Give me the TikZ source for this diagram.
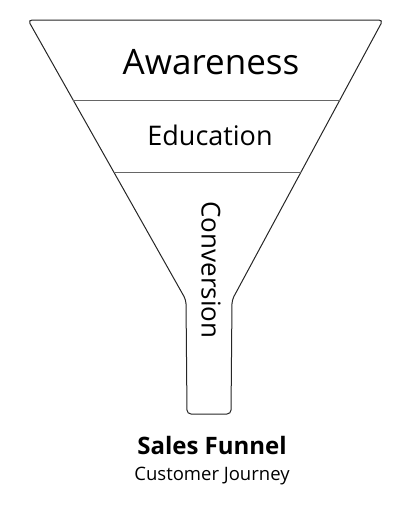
\documentclass[tikz,border=0pt]{standalone}
\usepackage{fontspec}
\setmainfont{Open Sans}
\usetikzlibrary{positioning, calc}

\begin{document}
\begin{tikzpicture}[
        x=1pt, y=-1pt,
        outline/.style={line width=1pt, draw=black!85, rounded corners=4pt},
        divider/.style={line width=1pt, draw=black!60},
        stage/.style={anchor=center, inner sep=0pt},
        big/.style={stage, font=\fontsize{35}{40}\selectfont},
        mid/.style={stage, font=\fontsize{27}{31}\selectfont},
        small/.style={stage, font=\fontsize{26}{30}\selectfont},
        title/.style={stage, font=\fontsize{24}{28}\selectfont\bfseries},
        subtitle/.style={stage, font=\fontsize{18.5}{22}\selectfont}
    ]
        \useasboundingbox (0,0) rectangle (410,509);

        \coordinate (topL) at (28,20);
        \coordinate (topR) at (383,20);
        \coordinate (neckL) at (186,300);
        \coordinate (neckR) at (232,300);
        \coordinate (baseL) at (187,414);
        \coordinate (baseR) at (231,414);

        \draw[outline] (topL) -- (topR) -- (neckR) -- (baseR) -- (baseL) -- (neckL) -- cycle;

        \coordinate (d1L) at ($(topL)!0.2857!(neckL)$);
        \coordinate (d1R) at ($(topR)!0.2857!(neckR)$);
        \coordinate (d2L) at ($(topL)!0.5429!(neckL)$);
        \coordinate (d2R) at ($(topR)!0.5429!(neckR)$);
        \draw[divider] (d1L) -- (d1R);
        \draw[divider] (d2L) -- (d2R);

        \node[big] (aware) at (211,62) {Awareness};
        \node[mid] (edu) at (210,135) {Education};
        \node[small, rotate=-90] (conv) at (211,270) {Conversion};

        \node[title] (sales) at (212,445) {Sales Funnel};
        \node[subtitle, below=12pt of sales] (journey) {Customer Journey};
    \end{tikzpicture}
\end{document}
